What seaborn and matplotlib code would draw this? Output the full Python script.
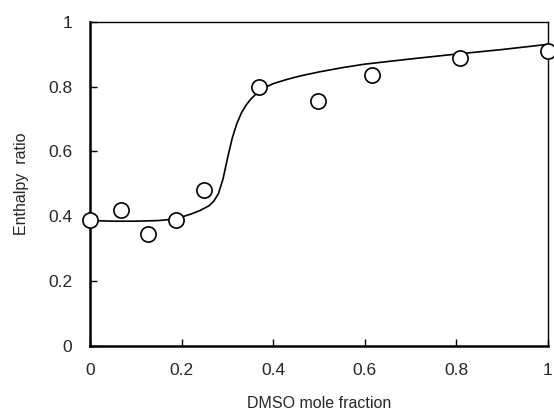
import numpy as np
import pandas as pd
import matplotlib.pyplot as plt
import seaborn as sns

# measured points
dmso_frac = [0.0, 0.068, 0.127, 0.188, 0.249, 0.369, 0.498, 0.616, 0.808, 1.0]
enthalpy_ratio = [0.39, 0.42, 0.345, 0.39, 0.48, 0.80, 0.754, 0.837, 0.889, 0.908]

# fitted curve
curve_x = [0.0, 0.05, 0.10, 0.15, 0.18, 0.20, 0.22, 0.24, 0.26, 0.27, 0.28, 0.29,
           0.30, 0.31, 0.32, 0.33, 0.34, 0.35, 0.36, 0.37, 0.38, 0.40, 0.43,
           0.46, 0.50, 0.55, 0.60, 0.65, 0.70, 0.80, 0.90, 1.0]
curve_y = [0.387, 0.385, 0.385, 0.387, 0.391, 0.398, 0.407, 0.418, 0.433, 0.447, 0.470, 0.515,
           0.580, 0.640, 0.685, 0.718, 0.742, 0.760, 0.774, 0.786, 0.796, 0.809, 0.822,
           0.833, 0.845, 0.858, 0.869, 0.877, 0.885, 0.900, 0.914, 0.930]

pts = pd.DataFrame({"x": dmso_frac, "y": enthalpy_ratio})
fit = pd.DataFrame({"x": curve_x, "y": curve_y})

sns.set_style("white")
plt.rcParams['font.family'] = ['Liberation Sans', 'DejaVu Sans']

fig = plt.figure(figsize=(5.54, 4.16), dpi=100)
ax = fig.add_axes([0.163, 0.168, 0.826, 0.780])

sns.lineplot(data=fit, x="x", y="y", ax=ax, color="black", linewidth=1.2, sort=False)
sns.scatterplot(data=pts, x="x", y="y", ax=ax, s=120, facecolor="white",
                edgecolor="black", linewidth=1.2, zorder=3, clip_on=False)

ticks = [0, 0.2, 0.4, 0.6, 0.8, 1]
tick_labels = ["0", "0.2", "0.4", "0.6", "0.8", "1"]
ax.set_xlim(0, 1)
ax.set_ylim(0, 1)
ax.set_xticks(ticks)
ax.set_xticklabels(tick_labels)
ax.set_yticks(ticks)
ax.set_yticklabels(tick_labels)
ax.tick_params(axis="both", direction="in", length=5, width=1, labelsize=12.5,
               bottom=True, left=True, top=False, right=False, color="black")
ax.tick_params(axis="x", pad=12)
ax.tick_params(axis="y", pad=13)

for side in ["left", "bottom"]:
    ax.spines[side].set_linewidth(1.8)
for side in ["top", "right"]:
    ax.spines[side].set_linewidth(1.0)
for s in ax.spines.values():
    s.set_color("black")

ax.set_xlabel("DMSO mole fraction", fontsize=11.5, labelpad=13)
ax.set_ylabel("Enthalpy  ratio", fontsize=11.5, labelpad=14)

fig.savefig("out.png", dpi=100)
